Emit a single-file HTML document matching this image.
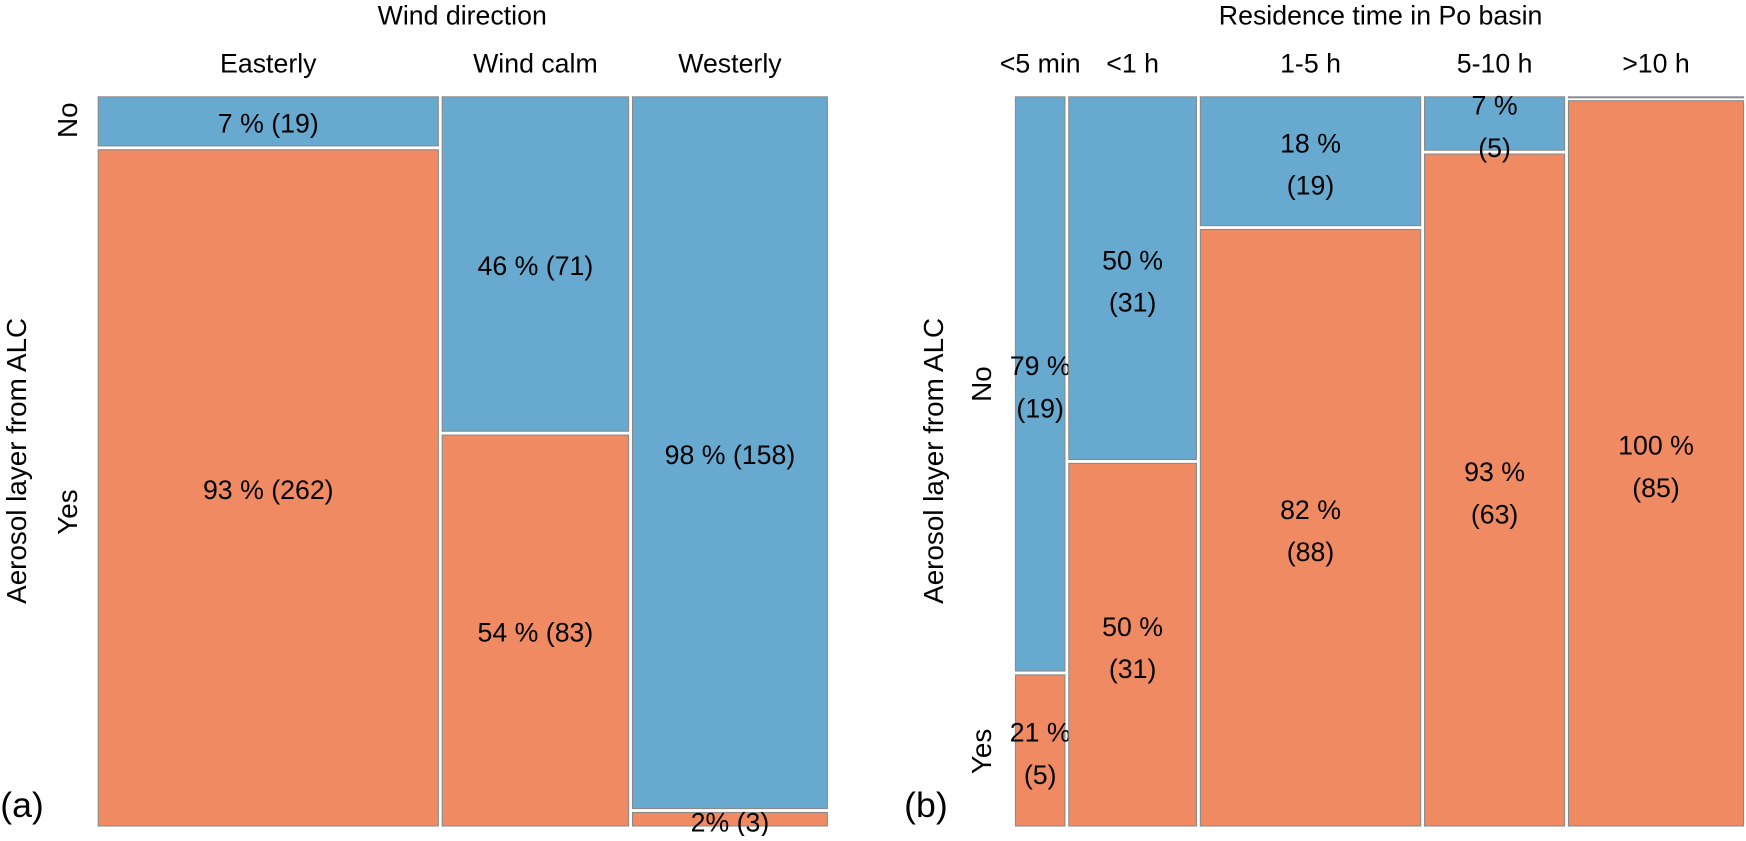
<!DOCTYPE html>
<html><head><meta charset="utf-8"><style>
body{margin:0;background:#fff}
svg text{font-family:"Liberation Sans",sans-serif;fill:#000}
</style></head><body>
<svg id="s" width="1746" height="836" viewBox="0 0 1568 751" xmlns="http://www.w3.org/2000/svg">
<text x="415" y="22" font-size="24" text-anchor="middle">Wind direction</text>
<text x="1240" y="22" font-size="24" text-anchor="middle">Residence time in Po basin</text>
<text transform="translate(23,414) rotate(-90)" font-size="25" text-anchor="middle">Aerosol layer from ALC</text>
<text transform="translate(847,414) rotate(-90)" font-size="25" text-anchor="middle">Aerosol layer from ALC</text>
<text transform="translate(69,108) rotate(-90)" font-size="25" text-anchor="middle">No</text>
<text transform="translate(69,460) rotate(-90)" font-size="25" text-anchor="middle">Yes</text>
<text transform="translate(890,345) rotate(-90)" font-size="25" text-anchor="middle">No</text>
<text transform="translate(890,675) rotate(-90)" font-size="25" text-anchor="middle">Yes</text>
<text x="0" y="734" font-size="32">(a)</text>
<text x="812" y="734" font-size="32">(b)</text>
</svg>
<script>
const catsA=["Easterly","Wind calm","Westerly"];
const noA=[19,71,158];
const yesA=[262,83,3];
const catsB=["<5 min","<1 h","1-5 h","5-10 h",">10 h"];
const noB=[19,31,19,5,0];
const yesB=[5,31,88,63,85];
const svg=document.getElementById('s');
const NS="http://www.w3.org/2000/svg";
function mk(t,a){const e=document.createElementNS(NS,t);for(const k in a)e.setAttribute(k,a[k]);svg.appendChild(e);return e;}
function panel(cats,no,yes,x0,x1,y0,y1,pfx,twoLine){
  const gap=3.5,tot=no.reduce((a,b)=>a+b,0)+yes.reduce((a,b)=>a+b,0);
  const W=x1-x0-gap*(cats.length-1),H=y1-y0-gap;
  let x=x0;
  cats.forEach((c,i)=>{
    const n=no[i]+yes[i],w=n/tot*W,hN=no[i]/n*H,hY=yes[i]/n*H;
    const cl=mk('text',{x:x+w/2,y:65,'font-size':24,'text-anchor':'middle'});cl.textContent=c;
    
    
    const rN=mk('rect',{x:x,y:y0,width:w,height:Math.max(hN,0.8),fill:'#67a9cf',stroke:'#8a8a8a','stroke-width':1});
    
    
    const yT=y0+hN+gap;
    const rY=mk('rect',{x:x,y:yT,width:w,height:hY,fill:'#ef8a62',stroke:'#8a8a8a','stroke-width':1});
    
    
    [[no[i],y0,hN,'no'],[yes[i],yT,hY,'yes']].forEach(([v,yy,hh,k])=>{
      if(v===0)return;
      const pct=Math.round(v/n*100);
      let cy=yy+hh/2;
      if(!twoLine){
        if(hh<20)cy=yy+hh/2+1;
        const t=mk('text',{x:x+w/2,y:cy+10,'font-size':24,'text-anchor':'middle'});
        t.textContent=pct+(pct<5?'% ':' % ')+'('+v+')';
        
        
      }else{
        const t=mk('text',{x:x+w/2,y:cy-8,'font-size':24,'text-anchor':'middle'});
        t.textContent=pct+' %';
        
        
        const t2=mk('text',{x:x+w/2,y:cy+30,'font-size':24,'text-anchor':'middle'});
        t2.textContent='('+v+')';
        
        
      }
    });
    x+=w+gap;
  });
}
panel(catsA,noA,yesA,88,743,87,742,'a',false);
panel(catsB,noB,yesB,912,1566,87,742,'b',true);
</script>
</body></html>
